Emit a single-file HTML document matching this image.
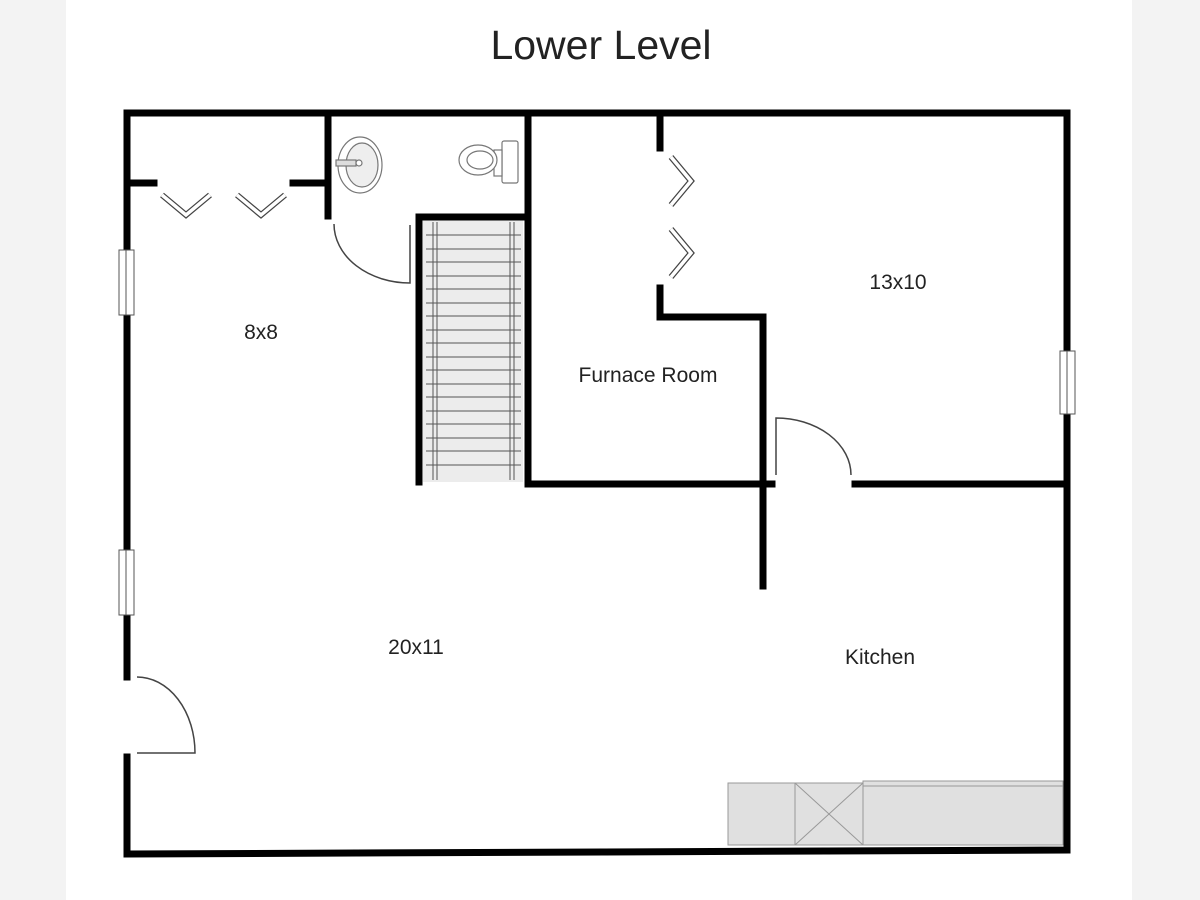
<!DOCTYPE html>
<html><head><meta charset="utf-8"><style>
html,body{margin:0;padding:0;background:#f3f3f3;}
svg{display:block;}
text{font-family:"Liberation Sans",sans-serif;fill:#222;}
</style></head><body>
<svg width="1200" height="900" viewBox="0 0 1200 900" xmlns="http://www.w3.org/2000/svg">
<rect x="0" y="0" width="1200" height="900" fill="#f3f3f3"/>
<rect x="66" y="0" width="1066" height="900" fill="#fff"/>
<text x="601" y="59" font-size="41" text-anchor="middle" fill="#111">Lower Level</text>

<!-- stairs -->
<rect x="423" y="220" width="100" height="262" fill="#ececec"/>
<g stroke="#555" stroke-width="1">
<line x1="433" y1="222" x2="433" y2="480"/><line x1="437" y1="222" x2="437" y2="480"/>
<line x1="510" y1="222" x2="510" y2="480"/><line x1="514" y1="222" x2="514" y2="480"/>
<g>
<line x1="426" y1="235" x2="521" y2="235"/><line x1="426" y1="249" x2="521" y2="249"/>
<line x1="426" y1="262" x2="521" y2="262"/><line x1="426" y1="276" x2="521" y2="276"/>
<line x1="426" y1="289" x2="521" y2="289"/><line x1="426" y1="303" x2="521" y2="303"/>
<line x1="426" y1="316" x2="521" y2="316"/><line x1="426" y1="330" x2="521" y2="330"/>
<line x1="426" y1="343" x2="521" y2="343"/><line x1="426" y1="357" x2="521" y2="357"/>
<line x1="426" y1="370" x2="521" y2="370"/><line x1="426" y1="384" x2="521" y2="384"/>
<line x1="426" y1="397" x2="521" y2="397"/><line x1="426" y1="411" x2="521" y2="411"/>
<line x1="426" y1="424" x2="521" y2="424"/><line x1="426" y1="438" x2="521" y2="438"/>
<line x1="426" y1="451" x2="521" y2="451"/><line x1="426" y1="465" x2="521" y2="465"/>
</g></g>

<!-- walls -->
<g stroke="#000" stroke-width="7" fill="none" stroke-linecap="square">
<path d="M127 250 V113 H1067 V350"/>
<path d="M127 315 V550"/>
<path d="M127 615 V677"/>
<path d="M127 757 V854 L1067 850 V415"/>
<path d="M131 183 H154"/>
<path d="M293 183 H328"/>
<path d="M328 113 V216"/>
<path d="M419 482 V217 H528"/>
<path d="M528 113 V484 H772"/>
<path d="M660 116 V148"/>
<path d="M660 288 V317 H763 V586"/>
<path d="M855 484 H1066"/>
</g>

<!-- windows -->
<g fill="#fff" stroke="#555" stroke-width="1">
<rect x="119" y="250" width="15" height="65"/><line x1="126" y1="250" x2="126" y2="315"/>
<rect x="119" y="550" width="15" height="65"/><line x1="126" y1="550" x2="126" y2="615"/>
<rect x="1060" y="351" width="15" height="63"/><line x1="1067" y1="351" x2="1067" y2="414"/>
</g>

<!-- doors -->
<g stroke="#444" stroke-width="1.5" fill="none">
<path d="M137 677 A58 76 0 0 1 195 753 H137"/>
<path d="M334 224 A76 59 0 0 0 410 283 V225"/>
<path d="M776 475 V418 A75 57 0 0 1 851 475"/>
</g>

<!-- folding doors -->
<g fill="none">
<g transform="translate(162,195)"><path d="M0 0 L24 20 L48 0" stroke-width="6" stroke="#444"/><path d="M0 0 L24 20 L48 0" stroke-width="3.5" stroke="#fff"/></g>
<g transform="translate(237,195)"><path d="M0 0 L24 20 L48 0" stroke-width="6" stroke="#444"/><path d="M0 0 L24 20 L48 0" stroke-width="3.5" stroke="#fff"/></g>
<g transform="translate(671,157)"><path d="M0 0 L20 24 L0 48" stroke-width="6" stroke="#444"/><path d="M0 0 L20 24 L0 48" stroke-width="3.5" stroke="#fff"/></g>
<g transform="translate(671,229)"><path d="M0 0 L20 24 L0 48" stroke-width="6" stroke="#444"/><path d="M0 0 L20 24 L0 48" stroke-width="3.5" stroke="#fff"/></g>
</g>

<!-- bath fixtures -->
<g stroke="#777" stroke-width="1.2" fill="#fff">
<ellipse cx="360" cy="165" rx="22" ry="28"/>
<ellipse cx="362" cy="165" rx="16" ry="22" fill="#eee"/>
<rect x="336" y="160" width="20" height="6" fill="#ddd"/>
<circle cx="359" cy="163" r="3"/>
<rect x="502" y="141" width="16" height="42" rx="2"/>
<rect x="494" y="150" width="8" height="26"/>
<ellipse cx="478" cy="160" rx="19" ry="15"/>
<ellipse cx="480" cy="160" rx="13" ry="9"/>
</g>

<!-- kitchen counter -->
<g stroke="#999" stroke-width="1" fill="#e0e0e0">
<rect x="728" y="783" width="67" height="62"/>
<rect x="795" y="783" width="68" height="62"/>
<line x1="795" y1="783" x2="863" y2="845"/><line x1="863" y1="783" x2="795" y2="845"/>
<rect x="863" y="781" width="200" height="64"/>
<line x1="863" y1="786" x2="1063" y2="786"/>
</g>

<text x="261" y="339" font-size="21" text-anchor="middle">8x8</text>
<text x="898" y="289" font-size="21" text-anchor="middle">13x10</text>
<text x="648" y="382" font-size="21" text-anchor="middle">Furnace Room</text>
<text x="416" y="654" font-size="21" text-anchor="middle">20x11</text>
<text x="880" y="664" font-size="21" text-anchor="middle">Kitchen</text>
</svg>
</body></html>
